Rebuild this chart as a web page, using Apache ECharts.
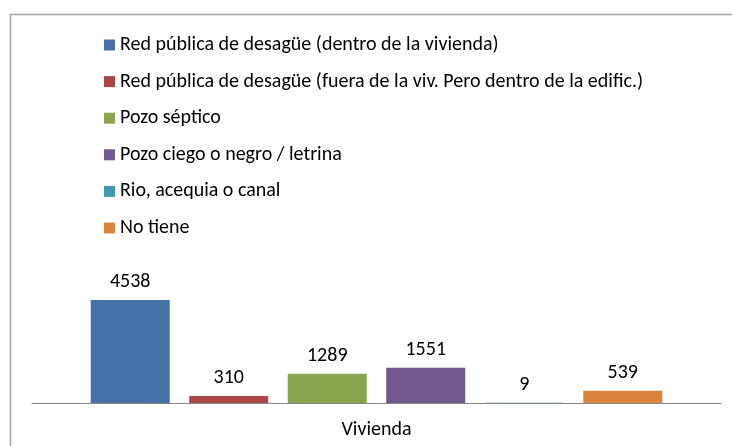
<!DOCTYPE html>
<html><head><meta charset="utf-8">
<script src="https://cdn.jsdelivr.net/npm/echarts@6/dist/echarts.min.js"></script>
<style>html,body{margin:0;padding:0;background:#fff}#c{width:732px;height:446px}</style>
</head><body><div id="c"></div>
<script>
const categories = ["Vivienda"];
const seriesNames = [
  "Red pública de desagüe (dentro de la vivienda)",
  "Red pública de desagüe (fuera de la viv. Pero dentro de la edific.)",
  "Pozo séptico",
  "Pozo ciego o negro / letrina",
  "Rio, acequia o canal",
  "No tiene"
];
const seriesValues = [4538, 310, 1289, 1551, 9, 539];
const colors = ["#4572A7", "#AA4643", "#89A54E", "#71588F", "#4198AF", "#DB843D"];

const FONT = "Carlito, 'Noto Sans', sans-serif";
const chart = echarts.init(document.getElementById('c'));
chart.setOption({
  animation: false,
  color: colors,
  graphic: [{type: 'rect', shape: {x: 10.5, y: 14.5, width: 740, height: 440}, style: {fill: 'none', stroke: '#a6a6a6', lineWidth: 1.5}, silent: true}],
  legend: {
    orient: 'vertical', left: 99, top: 30, itemWidth: 11, itemHeight: 11, itemGap: 16.6,
    icon: 'rect', padding: 5,
    textStyle: {fontFamily: FONT, fontSize: 20, color: '#000', lineHeight: 20},
    data: seriesNames
  },
  grid: {left: 32, right: 11, top: 289.5, bottom: 43, containLabel: false},
  xAxis: {type: 'category', data: categories,
    axisLine: {lineStyle: {color: '#888', width: 1}}, axisTick: {show: false},
    axisLabel: {fontFamily: FONT, fontSize: 20, color: '#000', margin: 17}},
  yAxis: {type: 'value', min: 0, max: 5000, show: false},
  series: seriesNames.map((n, i) => ({
    name: n, type: 'bar', barWidth: 79, barGap: '24.7%',
    data: [seriesValues[i]],
    label: {show: true, position: 'top', distance: 8, fontFamily: FONT, fontSize: 20, color: '#000'}
  }))
});
</script></body></html>
